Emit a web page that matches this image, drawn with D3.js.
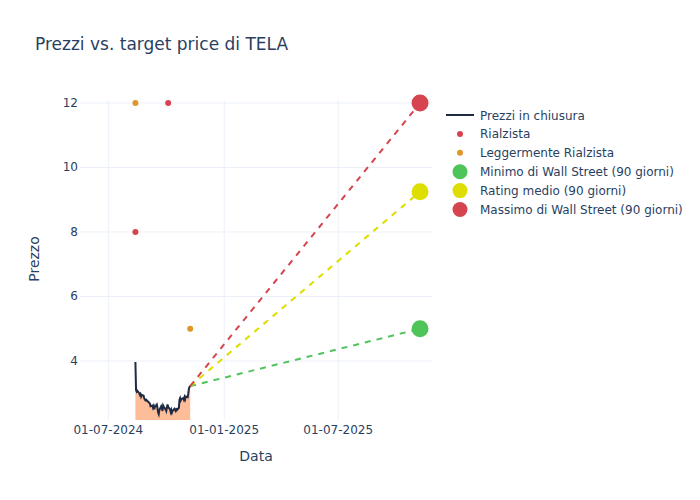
<!DOCTYPE html>
<html><head><meta charset="utf-8">
<script src="https://cdn.jsdelivr.net/npm/d3@7"></script>
<style>body{margin:0;background:#fff}svg{font-family:"DejaVu Sans",sans-serif}</style>
</head><body><svg id="c" width="700" height="500"></svg>
<script>
const priceDates = ["2024-08-13","2024-08-14","2024-08-15","2024-08-16","2024-08-19","2024-08-20","2024-08-21","2024-08-22","2024-08-23","2024-08-26","2024-08-27","2024-08-28","2024-08-29","2024-08-30","2024-09-03","2024-09-04","2024-09-05","2024-09-06","2024-09-09","2024-09-10","2024-09-11","2024-09-12","2024-09-13","2024-09-16","2024-09-17","2024-09-18","2024-09-19","2024-09-20","2024-09-23","2024-09-24","2024-09-25","2024-09-26","2024-09-27","2024-09-30","2024-10-01","2024-10-02","2024-10-03","2024-10-04","2024-10-07","2024-10-08","2024-10-09","2024-10-10","2024-10-11","2024-10-14","2024-10-15","2024-10-16","2024-10-17","2024-10-18","2024-10-21","2024-10-22","2024-10-23","2024-10-24","2024-10-25","2024-10-28","2024-10-29","2024-10-30","2024-10-31","2024-11-01","2024-11-04","2024-11-05","2024-11-06","2024-11-07","2024-11-08"];
const priceValues = [3.97,3.10,3.05,3.08,3.00,2.95,2.98,2.90,2.95,2.92,2.85,2.80,2.78,2.80,2.72,2.70,2.68,2.60,2.62,2.55,2.60,2.50,2.58,2.65,2.55,2.40,2.35,2.48,2.60,2.55,2.45,2.62,2.58,2.50,2.45,2.55,2.65,2.58,2.50,2.42,2.48,2.40,2.45,2.52,2.48,2.45,2.50,2.48,2.55,2.80,2.85,2.78,2.82,2.85,2.80,2.88,2.82,2.90,2.88,3.00,3.15,3.20,3.22];
const bullDates = ["2024-08-13","2024-10-04"];
const bullValues = [8,12];
const slightBullDates = ["2024-08-13","2024-11-08"];
const slightBullValues = [12,5];
const targetDate = "2025-11-08";
const targetMin = 5, targetMean = 9.25, targetMax = 12;
const xTicks = ["2024-07-01","2025-01-01","2025-07-01"];
const yTicks = [4,6,8,10,12];

const P = d3.timeParse("%Y-%m-%d");
const svg = d3.select("#c");
const L=80,R=432,T=100,B=420;
const x = d3.scaleTime().domain([P("2024-05-17"),P("2025-11-27")]).range([L,R]);
const y = d3.scaleLinear().domain([2.17,12.093]).range([B,T]);
const txt = "#2a3f5f", grid = "#ebf0f8";

svg.append("text").attr("x",35).attr("y",50).attr("fill",txt).attr("font-size",17).text("Prezzi vs. target price di TELA");

// grid
svg.append("g").selectAll("line").data(xTicks).join("line")
  .attr("x1",d=>x(P(d))).attr("x2",d=>x(P(d))).attr("y1",T).attr("y2",B).attr("stroke",grid);
svg.append("g").selectAll("line").data(yTicks).join("line")
  .attr("x1",L).attr("x2",R).attr("y1",d=>y(d)).attr("y2",d=>y(d)).attr("stroke",grid);

const clip = svg.append("clipPath").attr("id","pc").append("rect").attr("x",L).attr("y",T).attr("width",R-L).attr("height",B-T);
const g = svg.append("g").attr("clip-path","url(#pc)");

const pts = priceDates.map((d,i)=>({d:P(d),v:priceValues[i]}));
g.append("path").datum(pts).attr("fill","#fdbd98")
  .attr("d",d3.area().x(d=>x(d.d)).y0(y(0)).y1(d=>y(d.v)));

const last = pts[pts.length-1];
[[targetMin,"#4fc45a"],[targetMean,"#dede00"],[targetMax,"#d6454f"]].forEach(([v,c])=>{
  g.append("line").attr("x1",x(last.d)).attr("y1",y(last.v)).attr("x2",x(P(targetDate))).attr("y2",y(v))
   .attr("stroke",c).attr("stroke-width",2).attr("stroke-dasharray","6,6");
});

g.append("path").datum(pts).attr("fill","none").attr("stroke","#1f2a44").attr("stroke-width",2)
  .attr("d",d3.line().x(d=>x(d.d)).y(d=>y(d.v)));

bullDates.forEach((d,i)=>svg.append("circle").attr("cx",x(P(d))).attr("cy",y(bullValues[i])).attr("r",3).attr("fill","#d6454f"));
slightBullDates.forEach((d,i)=>svg.append("circle").attr("cx",x(P(d))).attr("cy",y(slightBullValues[i])).attr("r",3).attr("fill","#e0962a"));
[[targetMin,"#4fc45a"],[targetMean,"#dede00"],[targetMax,"#d6454f"]].forEach(([v,c])=>{
  svg.append("circle").attr("cx",x(P(targetDate))).attr("cy",y(v)).attr("r",8.5).attr("fill",c);
});

// axes labels
const fmt = d3.timeFormat("%d-%m-%Y");
svg.append("g").selectAll("text").data(xTicks).join("text")
  .attr("x",d=>x(P(d))).attr("y",434).attr("text-anchor","middle").attr("fill",txt).attr("font-size",12).text(d=>fmt(P(d)));
svg.append("g").selectAll("text").data(yTicks).join("text")
  .attr("x",78).attr("y",d=>y(d)+4).attr("text-anchor","end").attr("fill",txt).attr("font-size",12).text(d=>d);
svg.append("text").attr("x",256).attr("y",461).attr("text-anchor","middle").attr("fill",txt).attr("font-size",14).text("Data");
svg.append("text").attr("transform","translate(39,259) rotate(-90)").attr("text-anchor","middle").attr("fill",txt).attr("font-size",14).text("Prezzo");

// legend
const leg = [
  {t:"Prezzi in chiusura",type:"line",c:"#1f2a44"},
  {t:"Rialzista",type:"dot",c:"#d6454f"},
  {t:"Leggermente Rialzista",type:"dot",c:"#e0962a"},
  {t:"Minimo di Wall Street (90 giorni)",type:"big",c:"#4fc45a"},
  {t:"Rating medio (90 giorni)",type:"big",c:"#dede00"},
  {t:"Massimo di Wall Street (90 giorni)",type:"big",c:"#d6454f"}
];
const lg = svg.append("g");
leg.forEach((e,i)=>{
  const yy = 115 + i*18.9;
  if(e.type==="line") lg.append("line").attr("x1",446).attr("x2",474).attr("y1",yy).attr("y2",yy).attr("stroke",e.c).attr("stroke-width",2);
  else lg.append("circle").attr("cx",460).attr("cy",yy).attr("r",e.type==="dot"?3:7.5).attr("fill",e.c);
  lg.append("text").attr("x",480).attr("y",yy+4.5).attr("fill",txt).attr("font-size",12).text(e.t);
});
</script></body></html>
